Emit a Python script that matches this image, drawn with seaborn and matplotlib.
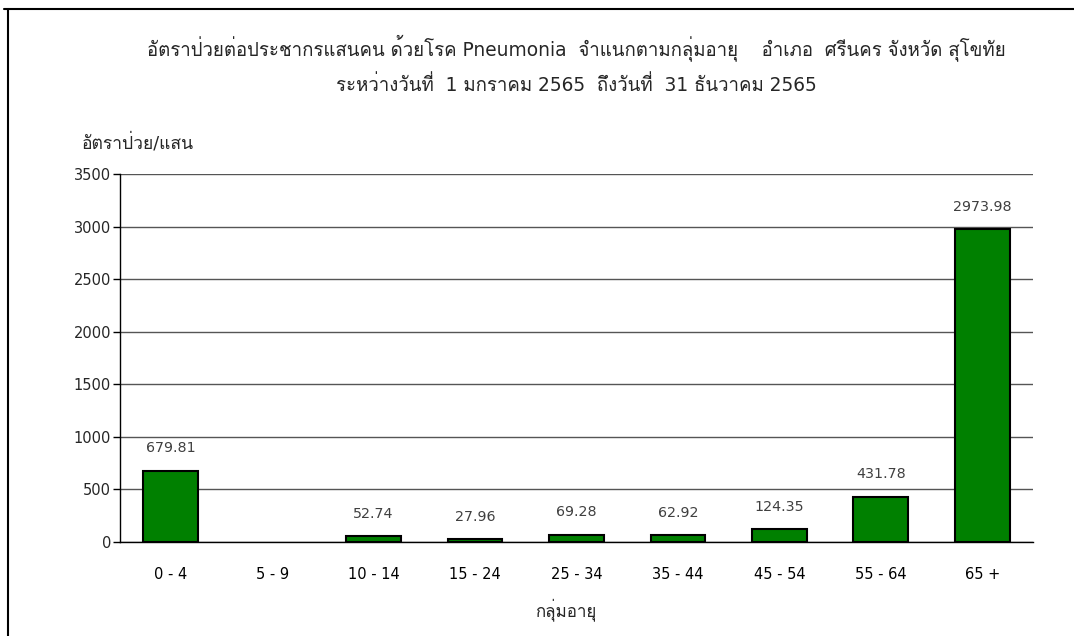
import numpy as np
import matplotlib
matplotlib.use("Agg")
import matplotlib.pyplot as plt
import seaborn as sns
from matplotlib import font_manager
from matplotlib.ft2font import FT2Font
from matplotlib.lines import Line2D

categories = ["0 - 4", "5 - 9", "10 - 14", "15 - 24", "25 - 34", "35 - 44", "45 - 54", "55 - 64", "65 +"]
rates = [679.81, 0, 52.74, 27.96, 69.28, 62.92, 124.35, 431.78, 2973.98]
labels = ["679.81", "", "52.74", "27.96", "69.28", "62.92", "124.35", "431.78", "2973.98"]
y_ticks = [0, 500, 1000, 1500, 2000, 2500, 3000, 3500]

title1 = "อัตราป่วยต่อประชากรแสนคน ด้วยโรค Pneumonia  จำแนกตามกลุ่มอายุ    อำเภอ  ศรีนคร จังหวัด สุโขทัย"
title2 = "ระหว่างวันที่  1 มกราคม 2565  ถึงวันที่  31 ธันวาคม 2565"
ylab = "อัตราป่วย/แสน"
xlab = "กลุ่มอายุ"


def find_thai_font():
    # look for any installed font that has Thai glyphs
    for f in font_manager.fontManager.ttflist:
        try:
            if ord("ก") in FT2Font(f.fname).get_charmap():
                return f.name
        except Exception:
            pass
    return None


sns.set_theme(style="white")
thai = find_thai_font()
fams = ["DejaVu Sans"] + ([thai] if thai else [])
plt.rcParams["font.family"] = fams

fig = plt.figure(figsize=(10.74, 6.36), dpi=100)
ax = fig.add_axes([0.1117, 0.1478, 0.8501, 0.5786])

sns.barplot(x=categories, y=rates, color="#008000", edgecolor="black",
            linewidth=1.5, width=0.54, saturation=1, ax=ax)

# zero bars are not drawn in the original
for p in ax.patches:
    if p.get_height() == 0:
        p.set_visible(False)

for i, (v, t) in enumerate(zip(rates, labels)):
    if t:
        ax.annotate(t, (i, v), xytext=(0, 16), textcoords="offset points",
                    ha="center", va="center", fontsize=10.3, color="#404040")

ax.set_ylim(0, 3500)
ax.set_yticks(y_ticks)
ax.set_xlim(-0.5, len(categories) - 0.5)
ax.yaxis.grid(True, color="#555555", linewidth=1)
ax.set_axisbelow(True)
for s in ["top", "right"]:
    ax.spines[s].set_visible(False)
ax.spines["left"].set_color("black")
ax.spines["bottom"].set_color("black")
ax.spines["left"].set_linewidth(1)
ax.spines["bottom"].set_linewidth(1)

ax.tick_params(axis="x", which="major", length=0, pad=18, labelsize=10.5, colors="black")
ax.set_xticks(np.arange(-0.5, len(categories)), minor=True)
ax.tick_params(axis="x", which="minor", length=6, width=1, color="black", direction="out")
ax.tick_params(axis="y", length=5, width=1, color="black", pad=1.5, labelsize=10.5, left=True)
ax.set_xlabel("")
ax.set_ylabel("")

fig.text(0.537, 0.925, title1, ha="center", va="center", fontsize=13.4)
fig.text(0.537, 0.866, title2, ha="center", va="center", fontsize=13.4)
fig.text(0.076, 0.776, ylab, ha="left", va="center", fontsize=12.6)
fig.text(0.527, 0.041, xlab, ha="center", va="center", fontsize=12.2)

# frame around the sheet
fig.add_artist(Line2D([0.004, 1.0], [0.9858, 0.9858], color="black", lw=1.5))
fig.add_artist(Line2D([0.0074, 0.0074], [0.0, 0.9858], color="black", lw=1.5))

fig.savefig("out.png", dpi=100)
